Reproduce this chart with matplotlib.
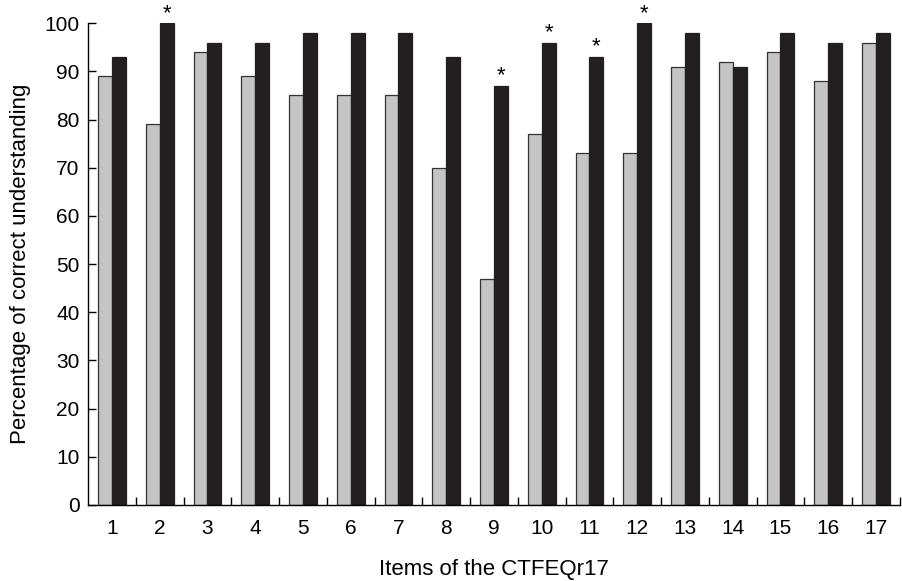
import matplotlib
matplotlib.use("Agg")
from matplotlib import pyplot as plt
import numpy as np

plt.rcParams['font.family'] = ['Liberation Sans', 'DejaVu Sans']

# data
items = [str(i) for i in range(1, 18)]
group_a = [89, 79, 94, 89, 85, 85, 85, 70, 47, 77, 73, 73, 91, 92, 94, 88, 96]
group_b = [93, 100, 96, 96, 98, 98, 98, 93, 87, 96, 93, 100, 98, 91, 98, 96, 98]
signif = [2, 9, 10, 11, 12]

x = np.arange(len(items))
w = 0.29

fig = plt.figure(figsize=(9.02, 5.81), dpi=100)
ax = fig.add_axes([0.0976, 0.131, 0.9, 0.829])

ax.bar(x - w / 2, group_a, width=w, color="#c4c4c4", edgecolor="#333333", linewidth=0.9)
ax.bar(x + w / 2, group_b, width=w, color="#231f20", edgecolor="#231f20", linewidth=0.9)

for item in signif:
    i = item - 1
    t = ax.text(x[i] + w / 2, group_b[i] - 0.1, "*", ha="center", va="bottom", fontsize=16)
    t.set_clip_on(False)

ax.set_xlim(-0.5, 16.5)
ax.set_ylim(0, 100)
ax.set_yticks(np.arange(0, 101, 10))
ax.set_xticks(x)
ax.set_xticklabels(items)
ax.set_xticks(np.arange(0.5, 17, 1), minor=True)
ax.tick_params(axis="x", which="major", length=0, pad=10, labelsize=15)
ax.tick_params(axis="x", which="minor", direction="in", length=6, width=1)
ax.tick_params(axis="y", direction="in", length=6, width=1, labelsize=15, pad=6)

ax.spines["top"].set_visible(False)
ax.spines["right"].set_visible(False)
ax.spines["left"].set_linewidth(1)
ax.spines["bottom"].set_linewidth(1)
ax.patch.set_alpha(0)

ax.set_xlabel("Items of the CTFEQr17", fontsize=16, labelpad=15)
ax.set_ylabel("Percentage of correct understanding", fontsize=16, labelpad=10)

plt.savefig("out.png", dpi=100)
